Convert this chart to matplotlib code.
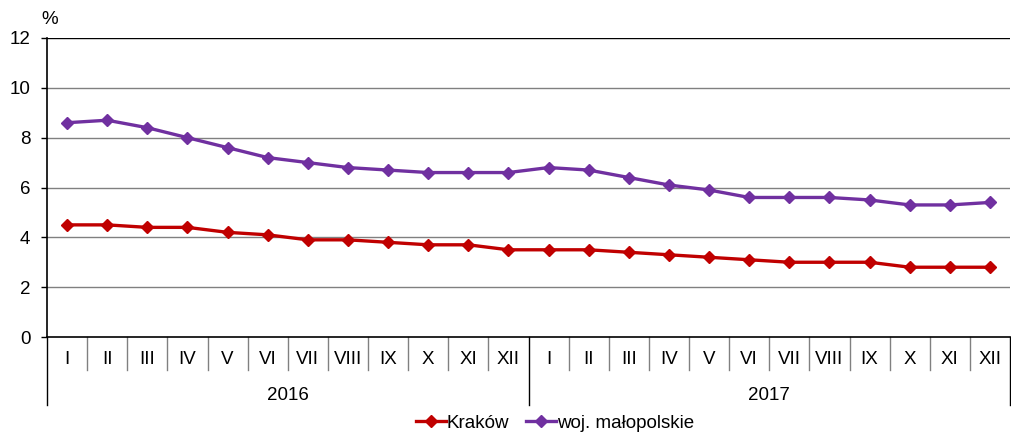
import matplotlib
matplotlib.use("Agg")
import matplotlib.pyplot as plt
from matplotlib.lines import Line2D

plt.rcParams['font.family'] = ['Liberation Sans', 'DejaVu Sans']

# ---- data ----
months = ["I", "II", "III", "IV", "V", "VI", "VII", "VIII", "IX", "X", "XI", "XII"]
years = ["2016", "2017"]
krakow = [4.5, 4.5, 4.4, 4.4, 4.2, 4.1, 3.9, 3.9, 3.8, 3.7, 3.7, 3.5,
          3.5, 3.5, 3.4, 3.3, 3.2, 3.1, 3.0, 3.0, 3.0, 2.8, 2.8, 2.8]
malopolskie = [8.6, 8.7, 8.4, 8.0, 7.6, 7.2, 7.0, 6.8, 6.7, 6.6, 6.6, 6.6,
               6.8, 6.7, 6.4, 6.1, 5.9, 5.6, 5.6, 5.6, 5.5, 5.3, 5.3, 5.4]

red = "#C00000"
purple = "#7030A0"
fs = 13.5

W, H = 1011, 434
fig = plt.figure(figsize=(W / 100, H / 100), dpi=100)
ax = fig.add_axes([47 / W, (H - 337) / H, (1010 - 47) / W, (337 - 38) / H])

n = len(krakow)
x = list(range(n))
ax.plot(x, krakow, color=red, lw=2.4, marker="D", ms=6, zorder=3)
ax.plot(x, malopolskie, color=purple, lw=2.4, marker="D", ms=6, zorder=3)

ax.set_xlim(-0.5, n - 0.5)
ax.set_ylim(0, 12)
ax.set_yticks(range(0, 13, 2))
ax.set_yticklabels([str(v) for v in range(0, 13, 2)], fontsize=fs)
ax.tick_params(axis="y", direction="out", length=4.5, width=1, pad=7.5)
ax.set_xticks([])

# gridlines
for v in range(2, 12, 2):
    ax.axhline(v, color="#808080", lw=1, zorder=1)
ax.axhline(12, color="black", lw=1, zorder=1)

for s in ["top", "right"]:
    ax.spines[s].set_visible(False)
ax.spines["left"].set_linewidth(1.2)
ax.spines["bottom"].set_linewidth(1.2)

fig.text(41 / W, (H - 20) / H, "%", fontsize=fs, ha="left", va="center")

# category labels and separators
trans = ax.get_xaxis_transform()
axh = 337 - 38
row1 = -33 / axh
row2 = -68 / axh
for i in range(n):
    ax.text(i, -23 / axh, months[i % 12], transform=trans, ha="center", va="center", fontsize=fs)
for i in range(n + 1):
    bottom = row2 if i % 12 == 0 else row1
    col = "black" if i % 12 == 0 else "#808080"
    ax.plot([i - 0.5, i - 0.5], [0, bottom], transform=trans, color=col, lw=1, clip_on=False)
for k, yr in enumerate(years):
    ax.text(k * 12 + 5.5, -58 / axh, yr, transform=trans, ha="center", va="center", fontsize=fs)

# legend (sits at the very bottom edge, as in the source)
handles = [Line2D([], [], color=red, lw=2.4, marker="D", ms=6),
           Line2D([], [], color=purple, lw=2.4, marker="D", ms=6)]
fig.legend(handles, ["Kraków", "woj. małopolskie"], loc="center",
           bbox_to_anchor=(555 / W, (H - 423) / H), ncol=2, frameon=False,
           fontsize=fs, handlelength=1.6, handletextpad=0.05, columnspacing=0.9,
           borderpad=0)

fig.savefig("out.png", dpi=100)
